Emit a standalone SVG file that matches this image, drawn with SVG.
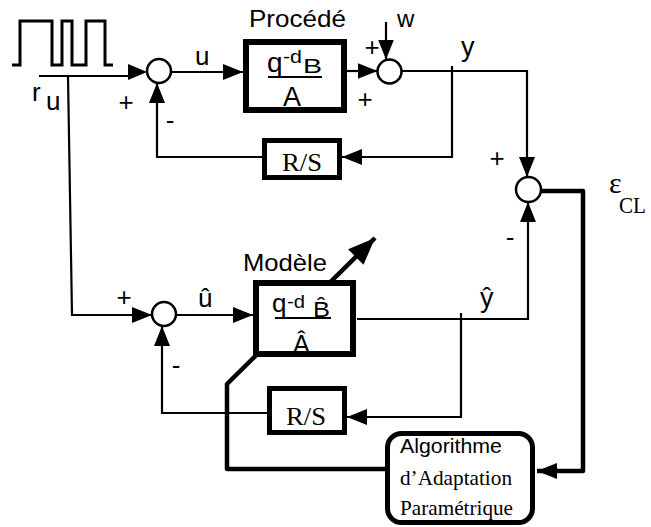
<svg xmlns="http://www.w3.org/2000/svg" width="651" height="527" viewBox="0 0 651 527">
<style>
.ln{fill:none;stroke:#000;stroke-width:2.2;stroke-linejoin:miter}
.thk{fill:none;stroke:#000;stroke-width:4.5;stroke-linejoin:round}
.box{fill:#fff;stroke:#000;stroke-width:6}
.box5{fill:#fff;stroke:#000;stroke-width:5}
.sum{fill:#fff;stroke:#000;stroke-width:2.5}
.s{font-family:"Liberation Sans",Arial,sans-serif;fill:#000}
.t{font-family:"Liberation Serif","Times New Roman",serif;fill:#000}
.frac{stroke:#000;stroke-width:2}
</style>
<defs>
<marker id="arr" viewBox="0 0 20 16" refX="20" refY="8" markerWidth="20" markerHeight="16" markerUnits="userSpaceOnUse" orient="auto">
<path d="M0,0 L20,8 L0,16 z" fill="#000"/>
</marker>
<marker id="big" viewBox="0 0 27 22" refX="27" refY="11" markerWidth="27" markerHeight="22" markerUnits="userSpaceOnUse" orient="auto">
<path d="M0,0 L27,11 L0,22 z" fill="#000"/>
</marker>
</defs>

<g id="connectors">
<path class="ln" d="M39,76 H130"/>
<polygon points="128,64 147,72 128,80" fill="#000"/>
<path class="ln" d="M68,76 L72,315 H152" marker-end="url(#arr)"/>
<path class="ln" d="M171,72 H243" marker-end="url(#arr)"/>
<path class="ln" d="M347,71 H377.5" marker-end="url(#arr)"/>
<path class="ln" d="M386,22 V59.5" marker-end="url(#arr)"/>
<path class="ln" d="M401.5,71 H527 V177" marker-end="url(#arr)"/>
<path class="ln" d="M452,66 V157 H342" marker-end="url(#arr)"/>
<path class="ln" d="M262,157 H157 V83" marker-end="url(#arr)"/>
<path class="thk" d="M541,191 H583 V471 H537" marker-end="url(#arr)"/>
<path class="ln" d="M357,319 H528 V202" marker-end="url(#arr)"/>
<path class="ln" d="M461,313 V417 H347" marker-end="url(#arr)"/>
<path class="ln" d="M267,413 H162 V326" marker-end="url(#arr)"/>
<path class="ln" d="M176,315 H253" marker-end="url(#arr)"/>
<path class="thk" d="M385,469 H227 V384 L375,238" marker-end="url(#big)"/>
</g>

<g id="signal">
<polyline class="ln" style="stroke-width:3" points="12,65 20,65 20,21 52,21 52,65 62,65 62,21 72,21 72,65 86,65 86,21 105,21 105,65 113,65"/>
<text class="s" x="32" y="101" font-size="26">r</text>
<text class="s" x="46" y="110" font-size="26">u</text>
</g>

<g id="sum1">
<circle class="sum" cx="159" cy="71" r="12"/>
<text class="s" x="126" y="111" font-size="26" text-anchor="middle">+</text>
<text class="s" x="170" y="129" font-size="26" text-anchor="middle">-</text>
</g>
<text class="s" x="195" y="65" font-size="26">u</text>

<g id="procede">
<rect class="box" x="246" y="42" width="98" height="68"/>
<text class="s" x="249" y="27" font-size="24" textLength="97" lengthAdjust="spacingAndGlyphs">Procédé</text>
<text class="s" x="267" y="72" font-size="28">q</text>
<text class="s" x="283" y="63" font-size="19" textLength="19" lengthAdjust="spacingAndGlyphs">-d</text>
<text class="s" x="303" y="73" font-size="21" textLength="19" lengthAdjust="spacingAndGlyphs">B</text>
<line class="frac" x1="268" y1="77" x2="322" y2="77"/>
<text class="s" x="283" y="106" font-size="27">A</text>
</g>

<g id="sum3">
<circle class="sum" cx="389.5" cy="71.5" r="12"/>
<text class="s" x="372" y="56" font-size="26" text-anchor="middle">+</text>
<text class="s" x="365" y="108" font-size="26" text-anchor="middle">+</text>
</g>
<text class="s" x="397" y="27" font-size="24">w</text>
<text class="s" x="461" y="56" font-size="27">y</text>

<g id="rs1">
<rect class="box5" x="264.5" y="140.5" width="75" height="37"/>
<text class="t" x="282" y="171" font-size="26" textLength="40" lengthAdjust="spacingAndGlyphs">R/S</text>
</g>

<g id="sum4">
<circle class="sum" cx="528.5" cy="189.5" r="12.5"/>
<text class="s" x="497" y="167" font-size="26" text-anchor="middle">+</text>
<text class="s" x="510" y="246" font-size="26" text-anchor="middle">-</text>
</g>
<text class="t" x="609" y="193" font-size="30">ε</text>
<text class="t" x="619" y="213" font-size="24" textLength="27" lengthAdjust="spacingAndGlyphs">CL</text>

<g id="sum2">
<circle class="sum" cx="164" cy="314" r="12"/>
<text class="s" x="124" y="306" font-size="26" text-anchor="middle">+</text>
<text class="s" x="176" y="374" font-size="26" text-anchor="middle">-</text>
</g>
<text class="s" x="198" y="307" font-size="26">û</text>

<g id="modele">
<rect class="box" x="256" y="283" width="97" height="71"/>
<text class="s" x="243" y="271" font-size="24" textLength="84" lengthAdjust="spacingAndGlyphs">Modèle</text>
<text class="s" x="272" y="312" font-size="26">q</text>
<text class="s" x="287" y="308" font-size="19" textLength="18" lengthAdjust="spacingAndGlyphs">-d</text>
<text class="s" x="313" y="317" font-size="22" textLength="17" lengthAdjust="spacingAndGlyphs">B̂</text>
<line class="frac" x1="275" y1="318" x2="331" y2="318"/>
<text class="s" x="293" y="353" font-size="25">Â</text>
</g>
<text class="s" x="480" y="307" font-size="27">ŷ</text>

<g id="rs2">
<rect class="box5" x="269.5" y="388.5" width="75" height="44"/>
<text class="t" x="286" y="425" font-size="26" textLength="40" lengthAdjust="spacingAndGlyphs">R/S</text>
</g>

<g id="aap">
<rect class="box5" x="387.5" y="433.5" width="145" height="89" rx="14"/>
<text class="s" x="400" y="453" font-size="21" textLength="102" lengthAdjust="spacingAndGlyphs">Algorithme</text>
<text class="t" x="400" y="485" font-size="21" textLength="112" lengthAdjust="spacingAndGlyphs">d’Adaptation</text>
<text class="t" x="400" y="515" font-size="21" textLength="113" lengthAdjust="spacingAndGlyphs">Paramétrique</text>
</g>
</svg>
